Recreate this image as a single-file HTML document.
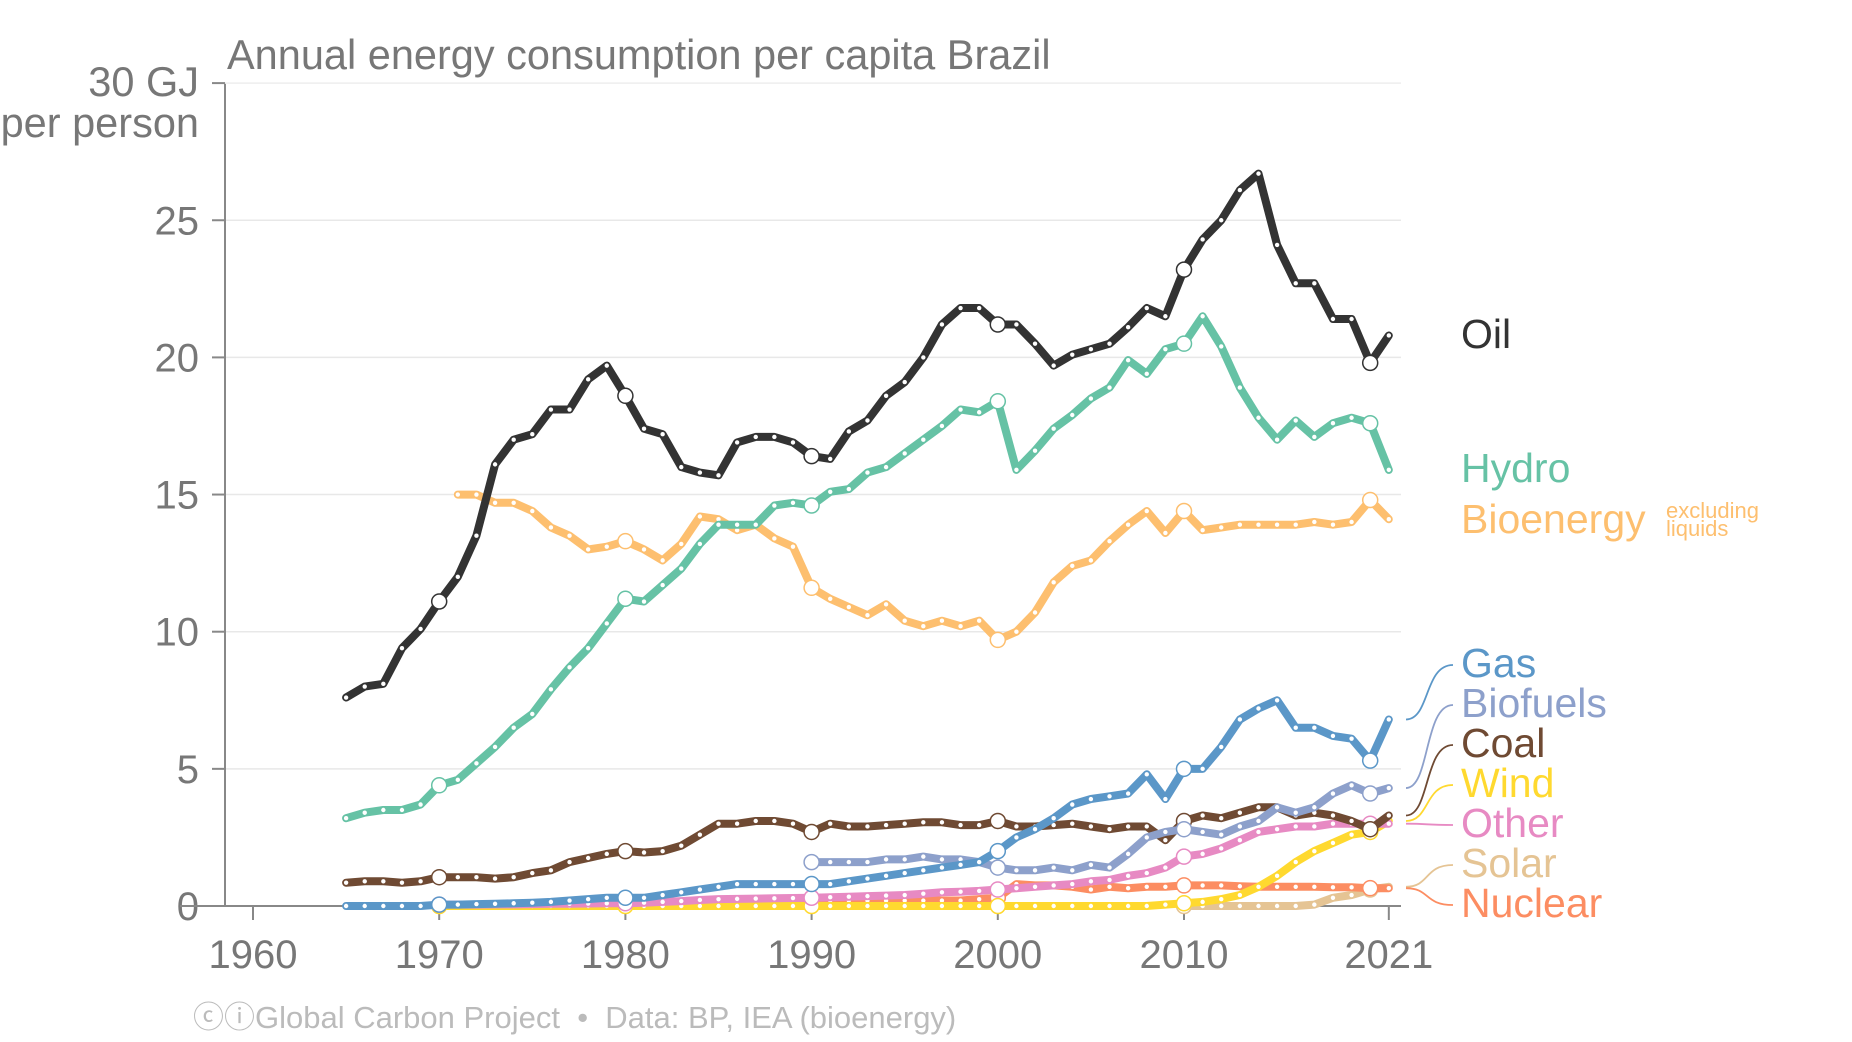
<!DOCTYPE html>
<html><head><meta charset="utf-8"><style>
html,body{margin:0;padding:0;background:#fff;}
svg{display:block;font-family:"Liberation Sans",Arial,sans-serif;}
</style></head><body>
<svg id="chart" width="1852" height="1042" viewBox="0 0 1852 1042" xmlns="http://www.w3.org/2000/svg">
<text x="227" y="69" font-size="41.5" fill="#777">Annual energy consumption per capita Brazil</text>
<text x="199" y="96" font-size="41.5" fill="#777" text-anchor="end">30 GJ</text>
<text x="199" y="137" font-size="41.5" fill="#777" text-anchor="end">per person</text>
<g id="grid"></g><g id="series"></g><g id="labels"></g>
<text x="193" y="1028" font-size="31" fill="#bbb" xml:space="preserve">ⓒⓘGlobal Carbon Project  •  Data: BP, IEA (bioenergy)</text>
</svg>
<script>
const years = [];for(let y=1965;y<=2021;y++)years.push(y);
const yTicks=[0,5,10,15,20,25];
const xTicks=[1960,1970,1980,1990,2000,2010,2021];
const oil=[7.6,8.0,8.1,9.4,10.1,11.1,12.0,13.5,16.1,17.0,17.2,18.1,18.1,19.2,19.7,18.6,17.4,17.2,16.0,15.8,15.7,16.9,17.1,17.1,16.9,16.4,16.3,17.3,17.7,18.6,19.1,20.0,21.2,21.8,21.8,21.2,21.2,20.5,19.7,20.1,20.3,20.5,21.1,21.8,21.5,23.2,24.3,25.0,26.1,26.7,24.1,22.7,22.7,21.4,21.4,19.8,20.8];
const hydro=[3.2,3.4,3.5,3.5,3.7,4.4,4.6,5.2,5.8,6.5,7.0,7.9,8.7,9.4,10.3,11.2,11.1,11.7,12.3,13.2,13.9,13.9,13.9,14.6,14.7,14.6,15.1,15.2,15.8,16.0,16.5,17.0,17.5,18.1,18.0,18.4,15.9,16.6,17.4,17.9,18.5,18.9,19.9,19.4,20.3,20.5,21.5,20.4,18.9,17.8,17.0,17.7,17.1,17.6,17.8,17.6,15.9];
const bioenergy=[null,null,null,null,null,null,15.0,15.0,14.7,14.7,14.4,13.8,13.5,13.0,13.1,13.3,13.0,12.6,13.2,14.2,14.1,13.7,13.9,13.4,13.1,11.6,11.2,10.9,10.6,11.0,10.4,10.2,10.4,10.2,10.4,9.7,10.0,10.7,11.8,12.4,12.6,13.3,13.9,14.4,13.6,14.4,13.7,13.8,13.9,13.9,13.9,13.9,14.0,13.9,14.0,14.8,14.1];
const gas=[0,0,0,0,0,0.05,0.05,0.07,0.08,0.1,0.12,0.15,0.2,0.25,0.3,0.3,0.3,0.4,0.5,0.6,0.7,0.8,0.8,0.8,0.8,0.8,0.8,0.9,1.0,1.1,1.2,1.3,1.4,1.5,1.6,2.0,2.5,2.8,3.2,3.7,3.9,4.0,4.1,4.8,3.9,5.0,5.0,5.8,6.8,7.2,7.5,6.5,6.5,6.2,6.1,5.3,6.8];
const biofuels=[null,null,null,null,null,null,null,null,null,null,null,null,null,null,null,null,null,null,null,null,null,null,null,null,null,1.6,1.6,1.6,1.6,1.7,1.7,1.8,1.7,1.7,1.6,1.4,1.3,1.3,1.4,1.3,1.5,1.4,1.9,2.5,2.7,2.8,2.7,2.6,2.9,3.1,3.6,3.4,3.6,4.1,4.4,4.1,4.3];
const coal=[0.85,0.9,0.9,0.85,0.9,1.05,1.05,1.05,1.0,1.05,1.2,1.3,1.6,1.75,1.9,2.0,1.95,2.0,2.2,2.6,3.0,3.0,3.1,3.1,3.0,2.7,3.0,2.9,2.9,2.95,3.0,3.05,3.05,2.95,2.95,3.1,2.9,2.9,2.95,3.0,2.9,2.8,2.9,2.9,2.4,3.1,3.3,3.2,3.4,3.6,3.6,3.3,3.4,3.3,3.1,2.8,3.3];
const other=[null,null,null,null,null,0.05,0.05,0.05,0.06,0.06,0.07,0.08,0.08,0.09,0.1,0.1,0.12,0.15,0.18,0.22,0.25,0.26,0.27,0.28,0.29,0.3,0.32,0.34,0.36,0.38,0.4,0.45,0.5,0.52,0.55,0.6,0.65,0.7,0.75,0.8,0.9,0.95,1.1,1.2,1.4,1.8,1.9,2.1,2.4,2.7,2.8,2.9,2.9,3.0,3.0,3.0,3.0];
const nuclear=[null,null,null,null,null,null,null,null,null,null,null,null,null,null,null,null,null,0.05,0.1,0.15,0.2,0.2,0.2,0.2,0.2,0.2,0.2,0.2,0.2,0.2,0.2,0.2,0.2,0.2,0.25,0.3,0.8,0.75,0.75,0.7,0.6,0.7,0.65,0.7,0.7,0.75,0.75,0.75,0.72,0.7,0.7,0.7,0.7,0.68,0.68,0.65,0.65];
const wind=[null,null,null,null,null,0,0,0,0,0,0,0,0,0,0,0,0,0,0,0,0,0,0,0,0,0,0,0,0,0,0,0,0,0,0,0,0,0,0,0,0,0,0,0,0.05,0.1,0.15,0.25,0.4,0.7,1.1,1.6,2.0,2.3,2.6,2.7,3.1];
const solar=[null,null,null,null,null,null,null,null,null,null,null,null,null,null,null,null,null,null,null,null,null,null,null,null,null,null,null,null,null,null,null,null,null,null,null,null,null,null,null,null,null,null,null,null,null,0,0,0,0,0,0,0,0.05,0.3,0.4,0.6,0.7];
const seriesDefs=[
 ["solar",solar,"#e5c494"],["nuclear",nuclear,"#fc8d62"],["wind",wind,"#ffd92f"],["other",other,"#e78ac3"],["coal",coal,"#6f4a33"],["biofuels",biofuels,"#8da0cb"],["gas",gas,"#5b97c8"],["bioenergy",bioenergy,"#fdbf6f"],["hydro",hydro,"#66c2a5"],["oil",oil,"#333333"]];
const X=y=>253+(y-1960)*18.62;
const Y=v=>906-v*27.43;
const NS="http://www.w3.org/2000/svg";
function mk(tag,attrs,parent){const e=document.createElementNS(NS,tag);for(const k in attrs)e.setAttribute(k,attrs[k]);parent.appendChild(e);return e;}
const grid=document.getElementById('grid');
yTicks.forEach(t=>{
 const l=mk('line',{x1:225,x2:1401,y1:Y(t),y2:Y(t),stroke:t===0?'#888':'#e8e8e8','stroke-width':t===0?2:1.5},grid);
 
 
 const tk=mk('line',{x1:212,x2:225,y1:Y(t),y2:Y(t),stroke:'#888','stroke-width':2},grid);
 
 
 const tx=mk('text',{x:199,y:Y(t)+14,'font-size':40,fill:'#777','text-anchor':'end'},grid);tx.textContent=t;
 
 
});
mk('line',{x1:225,x2:225,y1:Y(30),y2:Y(0),stroke:'#888','stroke-width':2},grid);
mk('line',{x1:180,x2:225,y1:Y(0),y2:Y(0),stroke:'#888','stroke-width':2},grid);
mk('line',{x1:212,x2:225,y1:Y(30),y2:Y(30),stroke:'#888','stroke-width':2},grid);
mk('line',{x1:225,x2:1401,y1:Y(30),y2:Y(30),stroke:'#eee','stroke-width':1.5},grid);
xTicks.forEach(t=>{
 const tk=mk('line',{x1:X(t),x2:X(t),y1:Y(0),y2:Y(0)+14,stroke:'#888','stroke-width':2},grid);
 
 
 const tx=mk('text',{x:X(t),y:968,'font-size':40,fill:'#777','text-anchor':'middle'},grid);tx.textContent=t;
 
 
});
const sg=document.getElementById('series');
seriesDefs.forEach(([name,vals,col])=>{
 const g=mk('g',{},sg);
 
 
 let d='';let pen=false;
 vals.forEach((v,i)=>{if(v==null){pen=false;return;}d+=(pen?'L':'M')+X(years[i]).toFixed(1)+','+Y(v).toFixed(1);pen=true;});
 const p=mk('path',{d:d,fill:'none',stroke:col,'stroke-width':8,'stroke-linejoin':'round','stroke-linecap':'round'},g);
 
 
 vals.forEach((v,i)=>{if(v==null)return;const yr=years[i];
  const big=(yr%10===0&&yr>=1970);
  const c=mk('circle',{cx:X(yr),cy:Y(v),r:big?7.5:2.2,fill:'#fff',stroke:big?col:'none','stroke-width':1.5},g);
  
  
 });
});
const lg=document.getElementById('labels');
function label(txt,col,y,name,size){const t=mk('text',{x:1461,y:y,'font-size':size||41,fill:col},lg);t.textContent=txt;
 
 return t;}
label('Oil','#333',348,'oil-label');
label('Hydro','#66c2a5',482,'hydro-label');
label('Bioenergy','#fdbf6f',533,'bioenergy-label');
{const t=mk('text',{x:1666,y:518,'font-size':22,fill:'#fdbf6f'},lg);t.textContent='excluding';
 const t2=mk('text',{x:1666,y:536,'font-size':22,fill:'#fdbf6f'},lg);t2.textContent='liquids';}
const small=[["Gas",gas,"#5b97c8",677],["Biofuels",biofuels,"#8da0cb",717],["Coal",coal,"#6f4a33",757],["Wind",wind,"#ffd92f",797],["Other",other,"#e78ac3",837],["Solar",solar,"#e5c494",877],["Nuclear",nuclear,"#fc8d62",917]];
small.forEach(([n,vals,col,by])=>{
 label(n,col,by,n.toLowerCase()+'-label');
 const y0=Y(vals[vals.length-1]),y1=by-12,x0=1406,x1=1453;
 const c=mk('path',{d:`M${x0},${y0} C${x0+24},${y0} ${x0+18},${y1} ${x1},${y1}`,fill:'none',stroke:col,'stroke-width':1.8},lg);
 
 
});
</script>
</body></html>
